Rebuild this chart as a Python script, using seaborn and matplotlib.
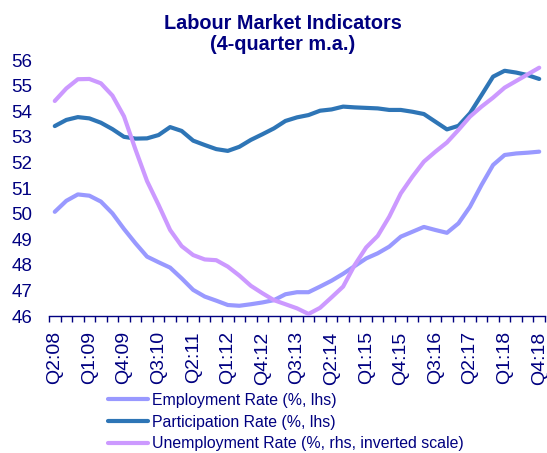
import pandas as pd
import numpy as np
import matplotlib
matplotlib.use('Agg')
import matplotlib.pyplot as plt
import seaborn as sns

quarters = [f"Q{p.quarter}:{p.year % 100:02d}" for p in pd.period_range('2008Q2', '2018Q4', freq='Q')]

employment = [50.07, 50.50, 50.75, 50.70, 50.47, 50.01, 49.40, 48.84, 48.32, 48.10,
              47.89, 47.47, 47.02, 46.76, 46.60, 46.43, 46.40, 46.46, 46.53, 46.62,
              46.85, 46.93, 46.93, 47.15, 47.38, 47.65, 47.95, 48.25, 48.45, 48.71,
              49.10, 49.29, 49.48, 49.36, 49.25, 49.62, 50.27, 51.12, 51.90, 52.29,
              52.35, 52.38, 52.42]
participation = [53.42, 53.66, 53.77, 53.72, 53.55, 53.30, 53.00, 52.93, 52.94, 53.07,
                 53.38, 53.23, 52.85, 52.68, 52.52, 52.45, 52.61, 52.88, 53.10, 53.33,
                 53.62, 53.76, 53.85, 54.02, 54.07, 54.18, 54.15, 54.13, 54.11, 54.05,
                 54.05, 53.98, 53.89, 53.59, 53.29, 53.43, 53.92, 54.63, 55.35, 55.58,
                 55.51, 55.41, 55.26]
# unemployment rate, right-hand scale (inverted)
unemployment = [8.10, 7.61, 7.25, 7.24, 7.41, 7.89, 8.70, 10.00, 11.23, 12.16,
                13.14, 13.77, 14.12, 14.29, 14.32, 14.57, 14.92, 15.32, 15.61, 15.88,
                16.04, 16.20, 16.42, 16.18, 15.77, 15.35, 14.51, 13.82, 13.37, 12.62,
                11.71, 11.06, 10.47, 10.08, 9.72, 9.23, 8.71, 8.32, 7.97, 7.58,
                7.32, 7.06, 6.80]

df = pd.DataFrame({'pos': np.arange(len(quarters)), 'quarter': quarters,
                   'Employment': employment, 'Participation': participation,
                   'Unemployment': unemployment})

sns.set_style('white')
plt.rcParams['font.family'] = ['Liberation Sans', 'DejaVu Sans']
navy = '#000080'
c_emp = '#9999FF'
c_part = '#2E75B6'
c_unemp = '#CC99FF'

fig = plt.figure(figsize=(5.47, 4.53), dpi=100)
ax = fig.add_axes([0.0896, 0.3024, 0.9067, 0.5651])
ax2 = ax.twinx()

sns.lineplot(data=df, x='pos', y='Unemployment', ax=ax2, color=c_unemp, lw=3,
             label='Unemployment Rate (%, rhs, inverted scale)', legend=False)
sns.lineplot(data=df, x='pos', y='Employment', ax=ax, color=c_emp, lw=3,
             label='Employment Rate (%, lhs)', legend=False)
sns.lineplot(data=df, x='pos', y='Participation', ax=ax, color=c_part, lw=3,
             label='Participation Rate (%, lhs)', legend=False)

ax.set_ylim(46, 56)
ax.set_yticks(range(46, 57))
ax2.set_ylim(16.5, 6.5)
ax2.set_yticks([])
ax.set_xlim(-0.5, len(quarters) - 0.5)

ax.set_xticks(df['pos'][::3])
ax.set_xticklabels(df['quarter'][::3], rotation=90)
ax.set_xticks(np.arange(-0.5, len(quarters)), minor=True)
ax.tick_params(axis='x', which='major', length=0, pad=11, labelsize=14, colors=navy)
ax.tick_params(axis='x', which='minor', length=4.5, width=1, color=navy, direction='out', bottom=True)
ax.tick_params(axis='y', length=0, pad=12, labelsize=13.5, colors=navy)
ax.set_xlabel('')
ax.set_ylabel('')
ax2.set_ylabel('')

for a in (ax, ax2):
    for s in ['top', 'right', 'left']:
        a.spines[s].set_visible(False)
    a.spines['bottom'].set_visible(False)
ax.spines['bottom'].set_visible(True)
ax.spines['bottom'].set_color(navy)
ax.spines['bottom'].set_linewidth(1)

fig.text(0.517, 0.925, 'Labour Market Indicators\n(4-quarter m.a.)', ha='center', va='center',
         fontsize=14.3, fontweight='bold', color=navy, linespacing=1.1)

h1, l1 = ax.get_legend_handles_labels()
h2, l2 = ax2.get_legend_handles_labels()
leg = fig.legend(h1 + h2, l1 + l2, loc='center left', bbox_to_anchor=(108 / 547, 1 - 422 / 453),
                 frameon=False, fontsize=11.4, handlelength=2.5, handletextpad=0.25,
                 labelspacing=0.42, borderpad=0, borderaxespad=0)
for t in leg.get_texts():
    t.set_color(navy)

fig.savefig('out.png', dpi=100)
